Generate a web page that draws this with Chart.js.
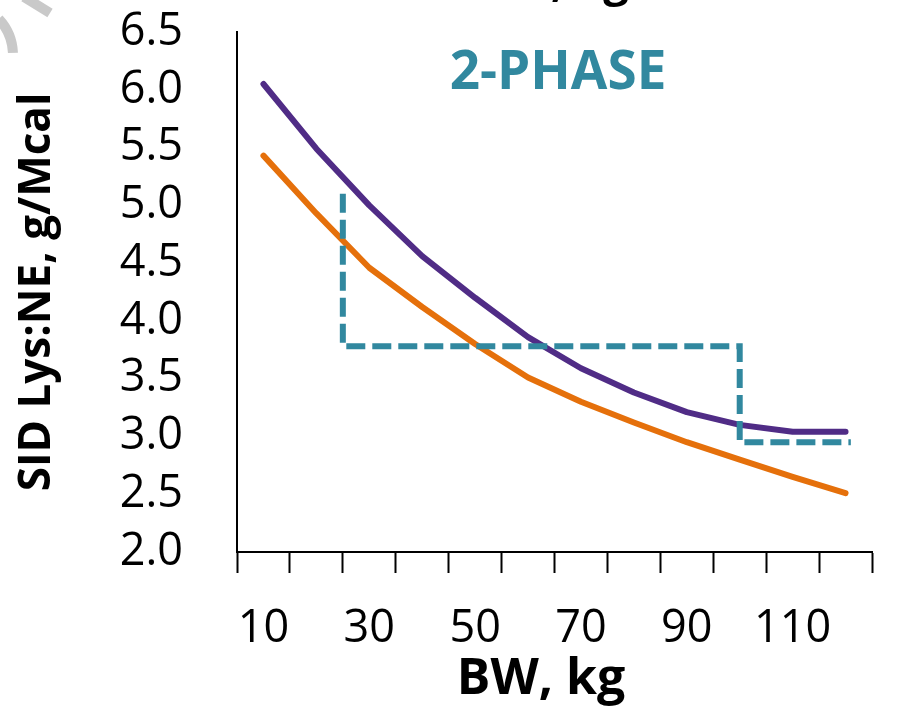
<!DOCTYPE html>
<html>
<head>
<meta charset="utf-8">
<title>SID Lys:NE by body weight</title>
<script src="https://cdn.jsdelivr.net/npm/chart.js@4.4.0/dist/chart.umd.min.js"></script>
<style>
  html, body { margin: 0; padding: 0; background: #fff; }
  #wrap { width: 897px; height: 717px; }
</style>
</head>
<body>
<div id="wrap"><canvas id="lysChart" width="897" height="717"></canvas></div>
<script>
'use strict';
// body weight, kg (one point every 10 kg)
var bodyWeight = [10, 20, 30, 40, 50, 60, 70, 80, 90, 100, 110, 120];
// requirement curves, g SID Lys per Mcal NE
var lysineUpper = [6.05, 5.49, 5.00, 4.56, 4.20, 3.86, 3.59, 3.38, 3.21, 3.10, 3.04, 3.04];
var lysineLower = [5.43, 4.93, 4.46, 4.12, 3.80, 3.51, 3.30, 3.12, 2.95, 2.80, 2.65, 2.51];
// 2-phase feeding program (step line)
var phaseWeight = [25, 25, 100, 100, 121];
var phaseLysine = [5.1, 3.78, 3.78, 2.95, 2.95];
// labelled x ticks
var xTickLabels = [10, 30, 50, 70, 90, 110];

var purple = '#502C86';
var orange = '#E5700B';
var teal = '#31889F';
var axisFont = '"Open Sans", "DejaVu Sans", sans-serif';

function toPoints(xs, ys) {
  var pts = [];
  for (var i = 0; i < xs.length; i++) {
    pts.push({ x: xs[i], y: ys[i] });
  }
  return pts;
}

// heading inside the plot, x title, and the clipped bits along the top edge
var extrasPlugin = {
  id: 'extras',
  afterDraw: function (chart) {
    var ctx = chart.ctx;
    ctx.save();
    // faint grey marks in the corner
    ctx.strokeStyle = '#c9c9c9';
    ctx.lineWidth = 10;
    ctx.lineCap = 'butt';
    ctx.beginPath();
    ctx.arc(-40, 55, 53, -0.75, -0.04);
    ctx.stroke();
    ctx.beginPath();
    ctx.moveTo(24, -3);
    ctx.lineTo(50, 13);
    ctx.stroke();
    ctx.fillStyle = '#000';
    ctx.textAlign = 'center';
    // axis title of the chart above, cut off at the top
    ctx.font = 'bold 45px ' + axisFont;
    ctx.textBaseline = 'alphabetic';
    ctx.fillText('BW, kg', 553, -4);
    // x axis title, sits a little left of the plot centre
    ctx.font = 'bold 50px ' + axisFont;
    ctx.textBaseline = 'middle';
    ctx.fillText('BW, kg', 541, 680);
    // phase heading
    ctx.fillStyle = teal;
    ctx.font = 'bold 53px ' + axisFont;
    ctx.fillText('2-PHASE', 558, 74);
    ctx.restore();
  }
};

var ctx = document.getElementById('lysChart').getContext('2d');
var chart = new Chart(ctx, {
  type: 'line',
  data: {
    datasets: [{
      label: '2-phase',
      data: toPoints(phaseWeight, phaseLysine),
      borderColor: teal,
      borderWidth: 6,
      borderDash: [19, 7],
      borderCapStyle: 'butt',
      borderJoinStyle: 'miter',
      pointRadius: 0,
      fill: false,
      tension: 0
    },
    {
      label: 'Upper',
      data: toPoints(bodyWeight, lysineUpper),
      borderColor: purple,
      borderWidth: 6,
      borderCapStyle: 'round',
      borderJoinStyle: 'round',
      pointRadius: 0,
      fill: false,
      tension: 0
    },
    {
      label: 'Lower',
      data: toPoints(bodyWeight, lysineLower),
      borderColor: orange,
      borderWidth: 6,
      borderCapStyle: 'round',
      borderJoinStyle: 'round',
      pointRadius: 0,
      fill: false,
      tension: 0
    }]
  },
  options: {
    responsive: false,
    animation: false,
    devicePixelRatio: 1,
    layout: { padding: { top: 32, right: 25, bottom: 0, left: 0 } },
    plugins: {
      legend: { display: false },
      tooltip: { enabled: false }
    },
    scales: {
      x: {
        type: 'linear',
        min: 5,
        max: 125,
        afterFit: function (scale) {
          scale.height = 165;
          // label padding should not shrink the plot sideways
          scale.paddingLeft = 0;
          scale.paddingRight = 0;
        },
        ticks: {
          stepSize: 5,
          autoSkip: false,
          maxRotation: 0,
          padding: 29,
          color: '#000',
          font: { family: axisFont, size: 45 },
          callback: function (value) {
            return xTickLabels.includes(value) ? String(value) : '';
          }
        },
        grid: {
          display: true,
          drawOnChartArea: false,
          drawTicks: true,
          tickLength: 21,
          tickWidth: 2,
          tickColor: function (c) {
            return (c.tick && c.tick.value % 10 === 5) ? '#000' : 'rgba(0,0,0,0)';
          }
        },
        border: { display: true, color: '#000', width: 2 },
        title: { display: false }
      },
      y: {
        min: 2,
        max: 6.5,
        afterFit: function (scale) {
          scale.width = 237;
          // label padding should not shrink the plot vertically
          scale.paddingTop = 0;
          scale.paddingBottom = 0;
        },
        ticks: {
          stepSize: 0.5,
          autoSkip: false,
          padding: 54,
          color: '#000',
          font: { family: axisFont, size: 45 },
          callback: function (value) { return Number(value).toFixed(1); }
        },
        grid: { display: false, drawTicks: false },
        border: { display: true, color: '#000', width: 2 },
        title: {
          display: true,
          text: 'SID Lys:NE, g/Mcal',
          color: '#000',
          font: { family: axisFont, size: 44, weight: 'bold' },
          padding: { top: 11, bottom: 0 }
        }
      }
    }
  },
  plugins: [extrasPlugin]
});
</script>
</body>
</html>
